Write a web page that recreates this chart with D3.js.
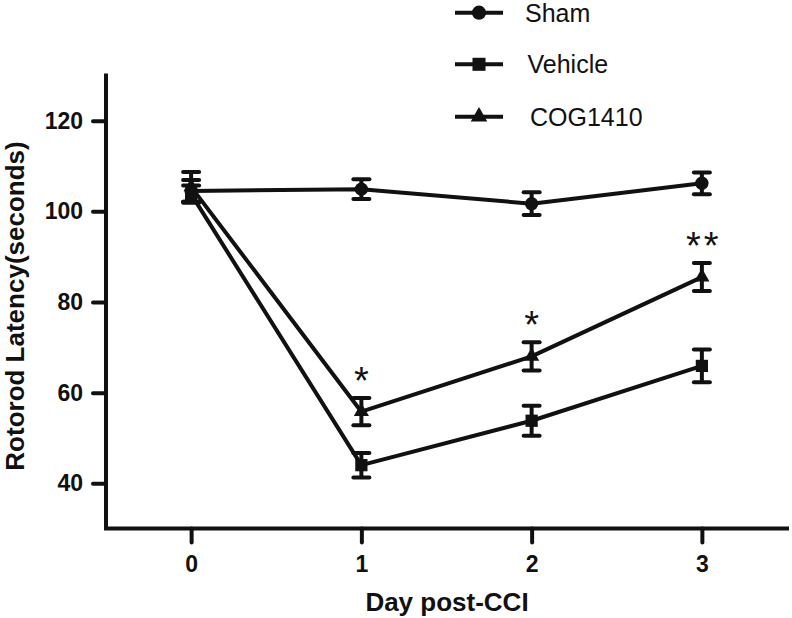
<!DOCTYPE html>
<html>
<head>
<meta charset="utf-8">
<script src="https://cdn.jsdelivr.net/npm/d3@7"></script>
<style>
  html, body { margin: 0; padding: 0; background: #fff; }
  svg { display: block; }
</style>
</head>
<body>
<svg id="chart" width="792" height="618"></svg>
<script>
// ---- data ----
const days = [0, 1, 2, 3];
const xTicks = [0, 1, 2, 3];
const yTicks = [40, 60, 80, 100, 120];
const seriesNames = ["Sham", "Vehicle", "COG1410"];
const shamMean = [104.5, 104.9, 101.7, 106.2];
const shamErr = [2.4, 2.2, 2.5, 2.4];
const vehicleMean = [103.8, 44.0, 53.8, 65.9];
const vehicleErr = [1.9, 2.7, 3.3, 3.6];
const cogMean = [105.4, 55.8, 68.0, 85.5];
const cogErr = [3.3, 3.0, 3.1, 3.1];
const starDays = [1, 2, 3];
const starLabels = ["*", "*", "**"];
const xTitle = "Day post-CCI";
const yTitle = "Rotorod Latency(seconds)";

const series = [
  { name: seriesNames[0], mean: shamMean, err: shamErr, symbol: d3.symbolCircle, size: 140 },
  { name: seriesNames[1], mean: vehicleMean, err: vehicleErr, symbol: d3.symbolSquare, size: 150 },
  { name: seriesNames[2], mean: cogMean, err: cogErr, symbol: d3.symbolTriangle, size: 100 }
];

const svg = d3.select("#chart");
const ink = "#111";
const font = "'Liberation Sans', Arial, Helvetica, sans-serif";

const x = d3.scaleLinear().domain([-0.5, 3.5]).range([106, 787]);
const y = d3.scaleLinear().domain([30, 130]).range([528.6, 75.4]);

// ---- axes ----
const yAxis = svg.append("g").attr("transform", `translate(${x(-0.5)},0)`)
  .call(d3.axisLeft(y).tickValues(yTicks).tickSize(13).tickPadding(10).tickFormat(d3.format("d")));
const xAxis = svg.append("g").attr("transform", `translate(0,${y(30)})`)
  .call(d3.axisBottom(x).tickValues(xTicks).tickSize(14).tickPadding(13).tickFormat(d3.format("d")));

[xAxis, yAxis].forEach(g => {
  g.select(".domain").remove();
  g.selectAll(".tick line").attr("stroke", ink).attr("stroke-width", 4).attr("stroke-linecap", "round");
  g.selectAll(".tick text").attr("fill", ink).style("font-family", font)
    .style("font-size", "23px").style("font-weight", "bold");
});
// axis lines (L shape)
svg.append("path")
  .attr("d", `M${x(-0.5)},${y(130)}V${y(30)}H${x(3.5)}`)
  .attr("fill", "none").attr("stroke", ink).attr("stroke-width", 4)
  .attr("stroke-linecap", "square").attr("stroke-linejoin", "miter");

// ---- axis titles ----
svg.append("text")
  .attr("x", 447).attr("y", 611)
  .attr("text-anchor", "middle").attr("fill", ink)
  .style("font-family", font).style("font-size", "26px").style("font-weight", "bold")
  .text(xTitle);
svg.append("text")
  .attr("transform", `translate(24,${(y(130) + y(30)) / 2 + 4}) rotate(-90)`)
  .attr("text-anchor", "middle").attr("fill", ink)
  .style("font-family", font).style("font-size", "26px").style("font-weight", "bold")
  .text(yTitle);

// ---- series ----
const line = d3.line().x((d, i) => x(days[i])).y(d => y(d));
series.forEach(s => {
  const g = svg.append("g");
  g.append("path").datum(s.mean).attr("d", line)
    .attr("fill", "none").attr("stroke", ink).attr("stroke-width", 4).attr("stroke-linejoin", "round");
  // error bars
  s.mean.forEach((m, i) => {
    const cx = x(days[i]);
    const lo = y(m - s.err[i]), hi = y(m + s.err[i]);
    g.append("line").attr("x1", cx).attr("x2", cx).attr("y1", lo).attr("y2", hi)
      .attr("stroke", ink).attr("stroke-width", 4);
    [lo, hi].forEach(yy => {
      g.append("line").attr("x1", cx - 8).attr("x2", cx + 8).attr("y1", yy).attr("y2", yy)
        .attr("stroke", ink).attr("stroke-width", 4).attr("stroke-linecap", "round");
    });
  });
  g.selectAll("path.sym").data(s.mean).enter().append("path")
    .attr("class", "sym")
    .attr("d", d3.symbol().type(s.symbol).size(s.size))
    .attr("transform", (d, i) => `translate(${x(days[i])},${y(d)})`)
    .attr("fill", ink);
});

// ---- significance stars (above COG1410 error bars) ----
starDays.forEach((d, k) => {
  const i = days.indexOf(d);
  const top = y(cogMean[i] + cogErr[i]);
  svg.append("text")
    .attr("x", x(d) + (starLabels[k].length > 1 ? 2 : 0)).attr("y", top - 4)
    .attr("text-anchor", "middle").attr("fill", ink)
    .style("font-family", font).style("font-size", "38px")
    .style("letter-spacing", starLabels[k].length > 1 ? "3px" : "0px")
    .text(starLabels[k]);
});

// ---- legend ----
const legend = svg.append("g");
const legY = [12.7, 64.3, 116.7];
series.forEach((s, k) => {
  const gy = legY[k];
  legend.append("line").attr("x1", 455).attr("x2", 503).attr("y1", gy).attr("y2", gy)
    .attr("stroke", ink).attr("stroke-width", 4);
  legend.append("path").attr("d", d3.symbol().type(s.symbol).size(s.size + 20))
    .attr("transform", `translate(479,${gy})`).attr("fill", ink);
  legend.append("text").attr("x", 525 + k * 2.5).attr("y", gy + 9)
    .attr("fill", ink).style("font-family", font).style("font-size", "25px")
    .text(s.name);
});
</script>
</body>
</html>
